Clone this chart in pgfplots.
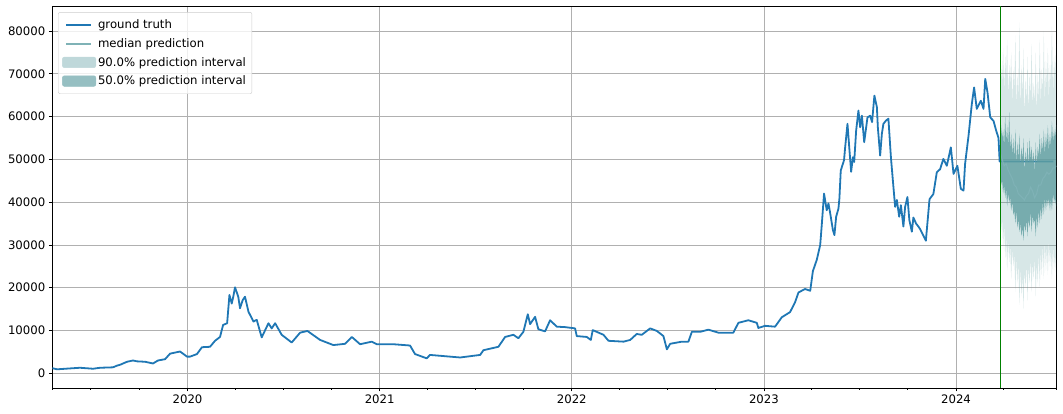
\documentclass[border=0pt]{standalone}
\usepackage{fontspec}
\setmainfont{DejaVu Sans}
\usepackage{pgfplots}
\pgfplotsset{compat=1.18}
\usepackage{pgfplotstable}

\definecolor{gt}{HTML}{1F77B4}
\definecolor{cadet}{HTML}{5F9EA0}
\definecolor{medc}{RGB}{127,178,182}
\definecolor{c90}{RGB}{191,216,218}
\definecolor{c50}{RGB}{150,191,194}
\definecolor{gridc}{HTML}{B0B0B0}

\pgfplotstableread{
x y
2019.296 1200
2019.321 940
2019.440 1300
2019.508 1070
2019.545 1300
2019.612 1400
2019.633 1800
2019.649 2000
2019.685 2700
2019.716 3000
2019.737 2800
2019.779 2700
2019.820 2300
2019.846 3000
2019.883 3300
2019.909 4600
2019.951 5000
2019.961 5100
2019.997 3900
2020.013 3900
2020.049 4500
2020.075 6100
2020.117 6200
2020.143 7600
2020.169 8500
2020.185 11300
2020.206 11700
2020.218 18300
2020.230 16300
2020.238 17900
2020.247 20100
2020.264 17900
2020.273 15200
2020.287 17100
2020.299 17900
2020.317 14400
2020.343 12100
2020.360 12500
2020.386 8400
2020.421 11700
2020.438 10500
2020.456 11700
2020.490 9000
2020.542 7200
2020.586 9500
2020.624 9900
2020.690 7800
2020.759 6600
2020.820 6900
2020.855 8500
2020.898 6800
2020.959 7400
2020.985 6800
2021.071 6800
2021.158 6500
2021.184 4500
2021.245 3500
2021.262 4300
2021.366 3900
2021.419 3700
2021.523 4300
2021.540 5400
2021.618 6200
2021.653 8500
2021.696 9000
2021.722 8200
2021.748 9700
2021.771 13800
2021.783 11500
2021.809 13200
2021.826 10300
2021.861 9800
2021.887 12400
2021.922 10900
2021.965 10800
2022.017 10500
2022.026 8700
2022.078 8500
2022.099 7800
2022.109 10100
2022.165 9000
2022.191 7600
2022.269 7400
2022.304 7800
2022.338 9200
2022.364 9000
2022.408 10500
2022.443 9900
2022.477 8700
2022.495 5600
2022.512 6900
2022.573 7400
2022.607 7400
2022.625 9700
2022.668 9700
2022.711 10200
2022.763 9500
2022.841 9500
2022.867 11800
2022.919 12400
2022.963 11800
2022.971 10600
2023.006 11100
2023.058 10900
2023.093 13100
2023.136 14300
2023.162 16600
2023.180 18900
2023.214 19700
2023.241 19300
2023.255 23900
2023.275 26500
2023.293 30000
2023.301 34600
2023.313 42000
2023.327 38100
2023.336 39700
2023.345 37400
2023.359 33500
2023.367 32300
2023.376 36600
2023.388 38500
2023.393 40900
2023.400 47400
2023.417 49800
2023.423 52900
2023.435 58300
2023.444 52900
2023.454 47100
2023.463 50500
2023.470 49400
2023.480 56700
2023.492 61400
2023.501 57500
2023.510 60200
2023.522 54000
2023.539 59800
2023.553 60200
2023.563 58700
2023.575 64900
2023.588 62200
2023.593 57500
2023.605 50900
2023.614 56000
2023.622 58300
2023.636 59100
2023.648 59500
2023.661 50500
2023.674 43600
2023.683 38900
2023.692 40500
2023.704 36600
2023.713 39300
2023.726 34300
2023.735 38900
2023.747 41200
2023.757 35800
2023.770 33100
2023.778 36400
2023.792 35000
2023.804 34300
2023.813 33700
2023.843 31000
2023.862 40700
2023.882 41900
2023.900 47000
2023.917 47700
2023.934 50100
2023.952 48500
2023.973 52800
2023.987 46600
2024.007 48500
2024.025 43100
2024.039 42700
2024.047 48900
2024.065 55500
2024.082 62900
2024.094 66800
2024.108 61800
2024.129 63700
2024.143 61800
2024.152 68800
2024.164 65600
2024.178 59800
2024.195 59000
2024.209 56700
2024.221 55000
2024.227 49500
2024.506 49500
}\gtruth

% 90% interval: upper bound forward, then lower bound backward
\pgfplotstableread{
x y
2024.229 64000
2024.234 72000
2024.240 68000
2024.245 76000
2024.250 66000
2024.256 74000
2024.261 69000
2024.266 78000
2024.271 65000
2024.277 72000
2024.282 67000
2024.287 75000
2024.293 63000
2024.298 71000
2024.303 66000
2024.309 79000
2024.314 62000
2024.319 70000
2024.324 64000
2024.330 82000
2024.335 61000
2024.340 72000
2024.346 65000
2024.351 76000
2024.356 60000
2024.362 69000
2024.367 63000
2024.372 74000
2024.377 61000
2024.383 70000
2024.388 64000
2024.393 77000
2024.399 62000
2024.404 68000
2024.409 63000
2024.415 75000
2024.420 60000
2024.425 70000
2024.430 64000
2024.436 78000
2024.441 62000
2024.446 71000
2024.452 66000
2024.457 80000
2024.462 63000
2024.468 73000
2024.473 67000
2024.478 76000
2024.483 64000
2024.489 72000
2024.494 68000
2024.499 81000
2024.505 65000
2024.510 74000
2024.515 69000
2024.521 77000
2024.521 23000
2024.515 28000
2024.510 24000
2024.505 30000
2024.499 22000
2024.494 29000
2024.489 25000
2024.483 31000
2024.478 23000
2024.473 30000
2024.468 24000
2024.462 31000
2024.457 22000
2024.452 30000
2024.446 23000
2024.441 29000
2024.436 20000
2024.430 28000
2024.425 21000
2024.420 26000
2024.415 18000
2024.409 27000
2024.404 22000
2024.399 26000
2024.393 19000
2024.388 27000
2024.383 21000
2024.377 25000
2024.372 17000
2024.367 26000
2024.362 20000
2024.356 24000
2024.351 15000
2024.346 23000
2024.340 18000
2024.335 25000
2024.330 16000
2024.324 26000
2024.319 21000
2024.314 27000
2024.309 19000
2024.303 28000
2024.298 25000
2024.293 29000
2024.287 22000
2024.282 30000
2024.277 26000
2024.271 31000
2024.266 24000
2024.261 32000
2024.256 27000
2024.250 35000
2024.245 29000
2024.240 36000
2024.234 33000
2024.229 40000
}\bandA

% 50% interval: upper bound forward, then lower bound backward
\pgfplotstableread{
x y
2024.229 60000
2024.234 58000
2024.240 55000
2024.245 57000
2024.250 53000
2024.256 60000
2024.261 54000
2024.266 58000
2024.271 53000
2024.277 61000
2024.282 52000
2024.287 56000
2024.293 51000
2024.298 55000
2024.303 50000
2024.309 57000
2024.314 49000
2024.319 54000
2024.324 50000
2024.330 56000
2024.335 48000
2024.340 53000
2024.346 50000
2024.351 55000
2024.356 47000
2024.362 52000
2024.367 49000
2024.372 54000
2024.377 48000
2024.383 55000
2024.388 50000
2024.393 53000
2024.399 49000
2024.404 52000
2024.409 47000
2024.415 54000
2024.420 48000
2024.425 53000
2024.430 51000
2024.436 56000
2024.441 50000
2024.446 55000
2024.452 52000
2024.457 57000
2024.462 51000
2024.468 56000
2024.473 53000
2024.478 58000
2024.483 52000
2024.489 56000
2024.494 53000
2024.499 59000
2024.505 54000
2024.510 57000
2024.515 55000
2024.521 58000
2024.521 39000
2024.515 41000
2024.510 40000
2024.505 42000
2024.499 38000
2024.494 41000
2024.489 38000
2024.483 41000
2024.478 39000
2024.473 41000
2024.468 38000
2024.462 41000
2024.457 37000
2024.452 40000
2024.446 36000
2024.441 39000
2024.436 35000
2024.430 38000
2024.425 34000
2024.420 37000
2024.415 32000
2024.409 36000
2024.404 35000
2024.399 37000
2024.393 33000
2024.388 38000
2024.383 34000
2024.377 36000
2024.372 32000
2024.367 36000
2024.362 33000
2024.356 35000
2024.351 31000
2024.346 34000
2024.340 32000
2024.335 35000
2024.330 33000
2024.324 36000
2024.319 34000
2024.314 38000
2024.309 35000
2024.303 38000
2024.298 37000
2024.293 40000
2024.287 38000
2024.282 41000
2024.277 40000
2024.271 42000
2024.266 39000
2024.261 43000
2024.256 41000
2024.250 44000
2024.245 42000
2024.240 45000
2024.234 44000
2024.229 47000
}\bandB

\pgfplotstableread{
x y
2024.229 52000
2024.240 50000
2024.250 48500
2024.261 49000
2024.271 47500
2024.282 46500
2024.293 45500
2024.303 44000
2024.314 43500
2024.324 42000
2024.335 41500
2024.346 41000
2024.356 40500
2024.367 41500
2024.377 42000
2024.388 43500
2024.399 42500
2024.409 41000
2024.420 42000
2024.430 44000
2024.441 44000
2024.452 45500
2024.462 46000
2024.473 47000
2024.483 46500
2024.494 47000
2024.505 48000
2024.515 48000
2024.521 48500
}\med

\begin{document}
\begin{tikzpicture}[font=\fontsize{11.7}{14}\selectfont]
\useasboundingbox (-52.3pt,-26pt) rectangle (1010.7pt,388pt);
\begin{axis}[
  at={(0,0)}, anchor=south west,
  scale only axis, width=1004pt, height=382pt,
  xmin=2019.296, xmax=2024.522, ymin=-3430, ymax=85840,
  xtick={2020,2021,2022,2023,2024},
  minor xtick={2019.296,2019.496,2019.748,2020.249,2020.497,2020.751,2021.247,2021.496,2021.748,2022.247,2022.496,2022.748,2023.247,2023.496,2023.748,2024.249,2024.522},
  ytick={0,10000,20000,30000,40000,50000,60000,70000,80000},
  scaled x ticks=false, scaled y ticks=false,
  /pgf/number format/assume math mode=true,
  /pgf/number format/1000 sep={},
  /pgf/number format/fixed,
  /pgf/number format/precision=0,
  tick align=outside, xtick pos=bottom, ytick pos=left,
  major tick length=3.5pt, minor tick length=2pt,
  tick style={black, line width=0.8pt},
  axis line style={black, line width=0.8pt},
  grid=major, major grid style={gridc, line width=0.8pt},
  ticklabel style={font=\fontsize{11.7}{14}\selectfont},
  legend style={at={(0.0057,0.984)}, anchor=north west, draw=black!20,
    rounded corners=2pt, fill=white, fill opacity=0.8, text opacity=1,
    inner ysep=5.5pt, inner xsep=4pt,
    font=\fontsize{11.7}{14}\selectfont, row sep=4.3pt},
  legend cell align=left,
]
\addlegendimage{legend image code/.code={\draw[gt, line width=2pt, draw opacity=1] (0pt,0pt) -- (25pt,0pt);}}
\addlegendentry{ground truth}
\addlegendimage{legend image code/.code={\draw[medc, line width=2pt, draw opacity=1] (0pt,0pt) -- (25pt,0pt);}}
\addlegendentry{median prediction}
\addlegendimage{legend image code/.code={\fill[c90, fill opacity=1] (-4pt,-5.3pt) rectangle (29.4pt,5.3pt);}}
\addlegendentry{90.0\% prediction interval}
\addlegendimage{legend image code/.code={\fill[c50, fill opacity=1] (-4pt,-5.3pt) rectangle (29.4pt,5.3pt);}}
\addlegendentry{50.0\% prediction interval}

\addplot[gt, line width=1.8pt, line join=round, forget plot] table[x=x,y=y]{\gtruth};
\addplot[fill=cadet, fill opacity=0.25, draw=none, forget plot] table[x=x,y=y]{\bandA} -- cycle;
\addplot[fill=cadet, fill opacity=0.8, draw=none, forget plot] table[x=x,y=y]{\bandB} -- cycle;
\addplot[medc, line width=1pt, forget plot] table[x=x,y=y]{\med};
\addplot[green!50!black, line width=1pt, forget plot] coordinates {(2024.229,-3430) (2024.229,85840)};
\end{axis}
\end{tikzpicture}
\end{document}
